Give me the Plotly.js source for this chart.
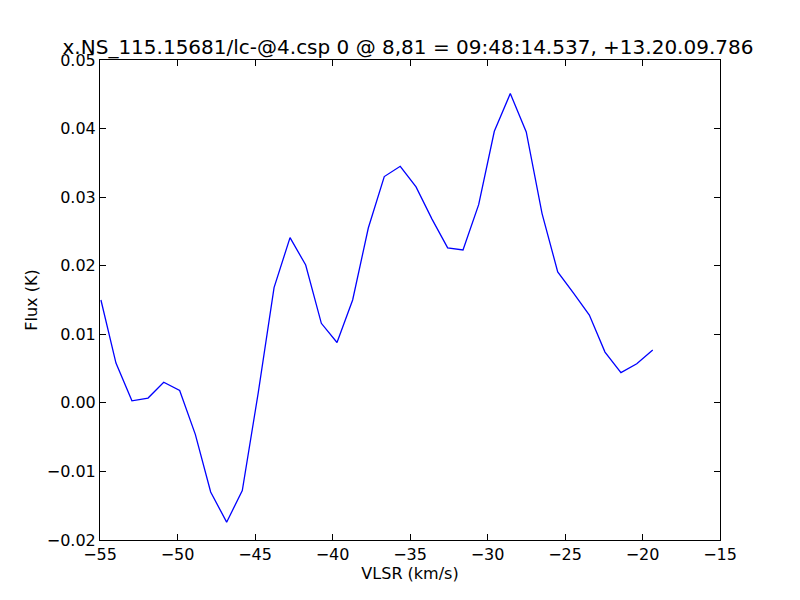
<!DOCTYPE html>
<html>
<head>
<meta charset="utf-8">
<script src="https://cdn.plot.ly/plotly-3.0.1.min.js"></script>
<style>html,body{margin:0;padding:0;background:#fff;}#plot{width:800px;height:600px;}</style>
</head>
<body>
<div id="plot"></div>
<script>
var velocity = [-54.94, -53.97, -52.94, -51.90, -50.89, -49.86, -48.85, -47.86, -46.83, -45.82,
  -44.79, -43.77, -42.74, -41.73, -40.72, -39.71, -38.70, -37.69, -36.66, -35.63,
  -34.61, -33.58, -32.57, -31.58, -30.57, -29.56, -28.53, -27.50, -26.48, -25.47,
  -24.45, -23.43, -22.42, -21.39, -20.37, -19.34];
var flux = [0.0150, 0.0058, 0.0003, 0.0007, 0.0030, 0.0018, -0.0046, -0.0130, -0.0174, -0.0128,
  0.0015, 0.0168, 0.0241, 0.0201, 0.0116, 0.0088, 0.0150, 0.0255, 0.0330, 0.0345,
  0.0315, 0.0268, 0.0226, 0.0223, 0.0289, 0.0396, 0.0451, 0.0395, 0.0276, 0.0191,
  0.0160, 0.0128, 0.0074, 0.0044, 0.0057, 0.0077];
var xTicks = [-55, -50, -45, -40, -35, -30, -25, -20, -15];
var yTicks = [-0.02, -0.01, 0.00, 0.01, 0.02, 0.03, 0.04, 0.05];
var titleText = "x.NS_115.15681/lc-@4.csp 0 @ 8,81 = 09:48:14.537, +13.20.09.786";

var font = "DejaVu Sans, sans-serif";
var axisCommon = {
  showgrid: false, zeroline: false, showline: true, linecolor: "#000", linewidth: 1,
  mirror: "ticks", ticks: "inside", ticklen: 6, tickwidth: 1, tickcolor: "#000",
  tickfont: {family: font, size: 16, color: "#000"}
};
var data = [{
  x: velocity, y: flux, type: "scatter", mode: "lines",
  line: {color: "#0000ff", width: 1.3}, hoverinfo: "none"
}];
var layout = Object.assign({
  width: 800, height: 600,
  paper_bgcolor: "#fff", plot_bgcolor: "#fff",
  margin: {l: 100, r: 80, t: 60, b: 60},
  showlegend: false,
  title: {text: titleText, font: {family: font, size: 20, color: "#000"}, x: 0.51, xanchor: "center", y: 0.922, yanchor: "middle"},
  xaxis: Object.assign({}, axisCommon, {
    range: [-55, -15], tickmode: "array", tickvals: xTicks,
    ticktext: xTicks.map(function(v){return v < 0 ? "\u2212" + Math.abs(v) : String(v);}),
    title: {text: "VLSR (km/s)", font: {family: font, size: 16, color: "#000"}, standoff: 1}
  }),
  yaxis: Object.assign({}, axisCommon, {
    range: [-0.02, 0.05], tickmode: "array", tickvals: yTicks,
    ticktext: yTicks.map(function(v){var s = Math.abs(v).toFixed(2); return v < 0 ? "\u2212" + s : s;}),
    title: {text: "Flux (K)", font: {family: font, size: 16, color: "#000"}, standoff: 5}
  })
});
Plotly.newPlot("plot", data, layout, {displayModeBar: false, staticPlot: true});
</script>
</body>
</html>
